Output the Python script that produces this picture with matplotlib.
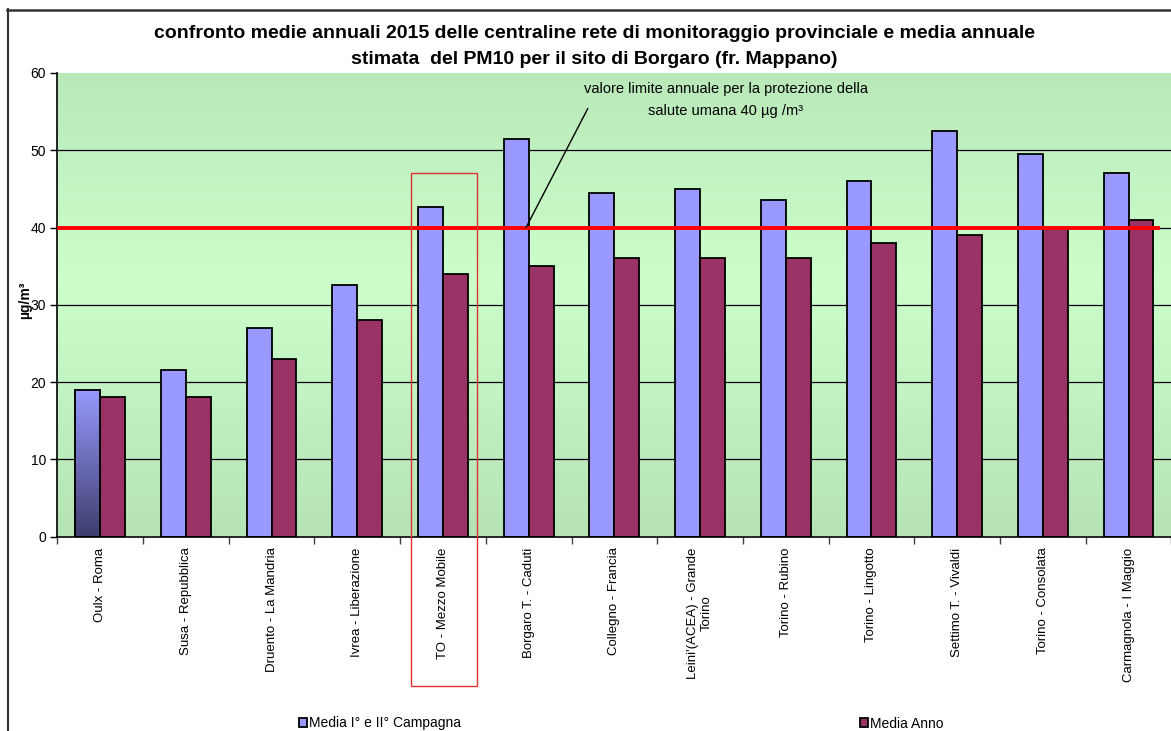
import matplotlib
matplotlib.use("Agg")
import matplotlib.pyplot as plt
import numpy as np
from matplotlib.patches import Rectangle
from matplotlib.lines import Line2D
from matplotlib.transforms import blended_transform_factory

plt.rcParams["font.family"] = ["Liberation Sans", "DejaVu Sans"]

stazioni = ["Oulx - Roma", "Susa - Repubblica", "Druento - La Mandria",
            "Ivrea - Liberazione", "TO - Mezzo Mobile", "Borgaro T. - Caduti",
            "Collegno - Francia", "Leini'(ACEA) - Grande\nTorino",
            "Torino - Rubino", "Torino - Lingotto", "Settimo T. - Vivaldi",
            "Torino - Consolata", "Carmagnola - I Maggio"]
media_campagna = [19, 21.5, 27, 32.5, 42.6, 51.5, 44.5, 45, 43.5, 46, 52.5, 49.5, 47]
media_anno = [18, 18, 23, 28, 34, 35, 36, 36, 36, 38, 39, 40, 41]
limite = 40
y_ticks = [0, 10, 20, 30, 40, 50, 60]

W, H = 1171, 731
fig = plt.figure(figsize=(W / 100, H / 100), dpi=100)
ax = fig.add_axes([57.3 / W, 194.5 / H, (1171.4 - 57.3) / W, 463.5 / H])

x = np.arange(len(stazioni))
bw = 0.29

# green background, lighter in the middle
t = np.linspace(0, 1, 256)
k = 1 - np.abs(t - 0.55) / 0.55
top = np.array([181, 227, 181]) / 255
mid = np.array([204, 255, 204]) / 255
grad = top[None, :] + (mid - top)[None, :] * k[:, None]
ax.imshow(grad[:, None, :], extent=(-0.5, len(stazioni) - 0.5, 0, 60),
          aspect="auto", origin="lower", zorder=0)

for v in y_ticks[1:-1]:
    ax.axhline(v, color="black", lw=0.9, zorder=1)

b1 = ax.bar(x - bw / 2, media_campagna, bw, color="#9999FF", edgecolor="black",
            lw=1.3, zorder=2, label="Media I° e II° Campagna")
b2 = ax.bar(x + bw / 2, media_anno, bw, color="#993366", edgecolor="black",
            lw=1.3, zorder=2, label="Media Anno")

# first bar shaded towards the bottom
p = b1.patches[0]
shade = np.linspace(0, 1, 256)
c_lo = np.array([62, 62, 110]) / 255
c_hi = np.array([153, 153, 255]) / 255
sh = c_lo[None, :] + (c_hi - c_lo)[None, :] * shade[:, None]
ax.imshow(sh[:, None, :], extent=(p.get_x(), p.get_x() + p.get_width(), 0, p.get_height()),
          aspect="auto", origin="lower", zorder=2.5)
ax.add_patch(Rectangle((p.get_x(), 0), p.get_width(), p.get_height(), fill=False,
                       edgecolor="black", lw=1.3, zorder=3))
ax.set_xlim(-0.5, len(stazioni) - 0.5)
ax.set_ylim(0, 60)

# limit line
ax.axhline(limite, xmin=0, xmax=0.988, color="#FF0000", lw=2.8, zorder=4)
ax.annotate("", xy=(4.97, limite), xytext=(5.69, 55.4),
            arrowprops=dict(arrowstyle="-", lw=1, color="black", shrinkA=0, shrinkB=0),
            zorder=5)
ax.text(7.3, 57.95, "valore limite annuale per la protezione della", ha="center",
        va="center", fontsize=10.5, zorder=5)
ax.text(7.3, 55.1, "salute umana 40 µg /m³", ha="center", va="center",
        fontsize=10.5, zorder=5)

# highlighted station
tr = blended_transform_factory(ax.transData, ax.transAxes)
ax.add_patch(Rectangle((4 - 0.375, -0.3226), 0.77, 0.784 + 0.3226, transform=tr,
                       fill=False, edgecolor="#E03030", lw=1, clip_on=False, zorder=6))

ax.set_yticks(y_ticks)
ax.tick_params(axis="y", length=5, width=1, labelsize=10, pad=3)
ax.set_xticks(x)
ax.set_xticklabels(stazioni, rotation=90, fontsize=9.5, ha="center", va="top",
                   multialignment="center")
ax.tick_params(axis="x", length=0, pad=8)
ax.set_xticks(np.arange(len(stazioni) + 1) - 0.5, minor=True)
ax.tick_params(axis="x", which="minor", length=5, width=1, color="#444444")
for s in ["top", "right"]:
    ax.spines[s].set_visible(False)
for s in ["left", "bottom"]:
    ax.spines[s].set_linewidth(1.2)

fig.text(25 / W, 1 - 300 / H, "µg/m³", rotation=90, ha="center", va="center",
         fontsize=10, fontweight="bold")

fig.text(594 / W, 1 - 34 / H,
         "confronto medie annuali 2015 delle centraline rete di monitoraggio provinciale e media annuale",
         ha="center", va="center", fontsize=14, fontweight="bold")
fig.text(594 / W, 1 - 59 / H,
         "stimata  del PM10 per il sito di Borgaro (fr. Mappano)",
         ha="center", va="center", fontsize=14, fontweight="bold")

for h, xpos in [(b1, 299), (b2, 860)]:
    fig.legend(handles=[h], loc="center left", bbox_to_anchor=(xpos / W, 1 - 723.5 / H),
               frameon=False, fontsize=10, handlelength=0.55, handleheight=0.55,
               handletextpad=0.2, borderpad=0, borderaxespad=0)

# outer frame
fig.add_artist(Line2D([7.5 / W, 7.5 / W], [0, 1 - 9 / H], color="#333333", lw=1.5))
fig.add_artist(Line2D([7 / W, 1], [1 - 9.5 / H, 1 - 9.5 / H], color="#333333", lw=1.8))

fig.savefig("out.png", dpi=100)
